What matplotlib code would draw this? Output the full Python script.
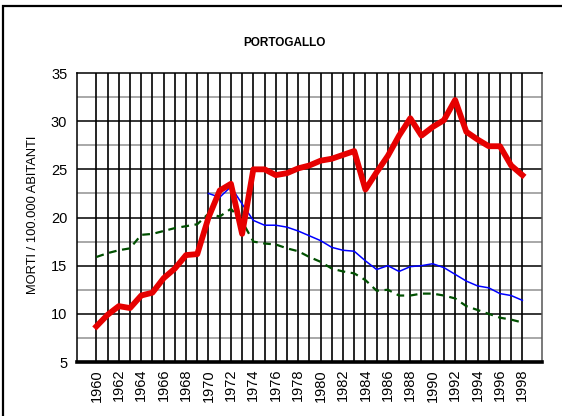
import matplotlib
matplotlib.use("Agg")
import matplotlib.pyplot as plt
from matplotlib.patches import Rectangle
from matplotlib.ticker import MultipleLocator

plt.rcParams["font.family"] = ["Liberation Sans", "DejaVu Sans"]

# --- Data ---
years = list(range(1960, 1999))

red_vals = [8.7, 9.9, 10.8, 10.6, 11.9, 12.2, 13.7, 14.7, 16.1, 16.2,
            20.0, 22.8, 23.5, 18.3, 25.0, 25.0, 24.4, 24.6, 25.1, 25.4,
            25.9, 26.1, 26.5, 26.9, 22.9, 24.7, 26.4, 28.5, 30.3, 28.5,
            29.4, 30.1, 32.2, 28.9, 28.1, 27.4, 27.4, 25.4, 24.4]

blue_years = list(range(1970, 1999))
blue_vals = [22.5, 22.1, 23.2, 21.4, 19.7, 19.2, 19.2, 19.0, 18.6, 18.1,
             17.6, 16.9, 16.6, 16.5, 15.5, 14.6, 15.0, 14.4, 14.9, 15.0,
             15.2, 14.8, 14.1, 13.4, 12.9, 12.7, 12.1, 11.9, 11.4]

green_vals = [15.9, 16.3, 16.6, 16.8, 18.2, 18.3, 18.6, 18.9, 19.1, 19.3,
              20.4, 20.1, 20.9, 19.6, 17.5, 17.3, 17.2, 16.8, 16.5, 15.9,
              15.4, 14.7, 14.4, 14.2, 13.5, 12.4, 12.5, 11.9, 11.9, 12.1,
              12.1, 11.9, 11.6, 10.8, 10.4, 10.0, 9.6, 9.4, 9.1]

year_labels = [str(y) for y in range(1960, 1999, 2)]

# --- Figure ---
fig = plt.figure(figsize=(5.62, 4.16), dpi=100)
ax = fig.add_axes([0.137, 0.1298, 0.827, 0.6947])

# outer frame (only left and top visible in the crop)
fig.patches.append(Rectangle((0.0048, -0.2), 1.3, 1.1856, transform=fig.transFigure,
                             fill=False, edgecolor="black", linewidth=1.6, clip_on=False))

# grid
ax.set_xlim(1960 - 1.73, 1998 + 1.73)
ax.set_ylim(5, 35)
ax.yaxis.set_major_locator(MultipleLocator(5))
ax.set_xticks(range(1960, 1999, 2))
ax.set_xticklabels(year_labels, rotation=90)

for y in range(10, 35, 5):
    ax.axhline(y, color="black", linewidth=1.1, zorder=1)
for y in [7.5, 12.5, 17.5, 22.5, 27.5, 32.5]:
    ax.axhline(y, color="#999999", linewidth=1.2, zorder=1)
for x in years:
    ax.axvline(x, color="black", linewidth=1.2, zorder=1)

# series
ax.plot(years, green_vals, color="#005000", linewidth=1.6,
        linestyle=(0, (3.5, 2.5)), zorder=3)
ax.plot(blue_years, blue_vals, color="#0000ff", linewidth=1.1, zorder=4)
ax.plot(years, red_vals, color="#e60000", linewidth=4.2, zorder=5)

# spines and ticks
for side in ["left", "top", "right"]:
    ax.spines[side].set_linewidth(1.1)
    ax.spines[side].set_color("black")
ax.spines["right"].set_color("#555555")
ax.spines["bottom"].set_linewidth(2.6)
ax.tick_params(axis="both", which="both", length=0)
ax.tick_params(axis="y", pad=7, labelsize=10.5)
ax.tick_params(axis="x", pad=5, labelsize=10.5)

fig.text(0.507, 0.8966, "PORTOGALLO", fontsize=8.5, fontweight="bold",
         ha="center", va="center")
fig.text(0.059, 0.483, "MORTI / 100.000 ABITANTI", fontsize=9.3,
         rotation=90, ha="center", va="center")

fig.savefig("out.png", dpi=100)
